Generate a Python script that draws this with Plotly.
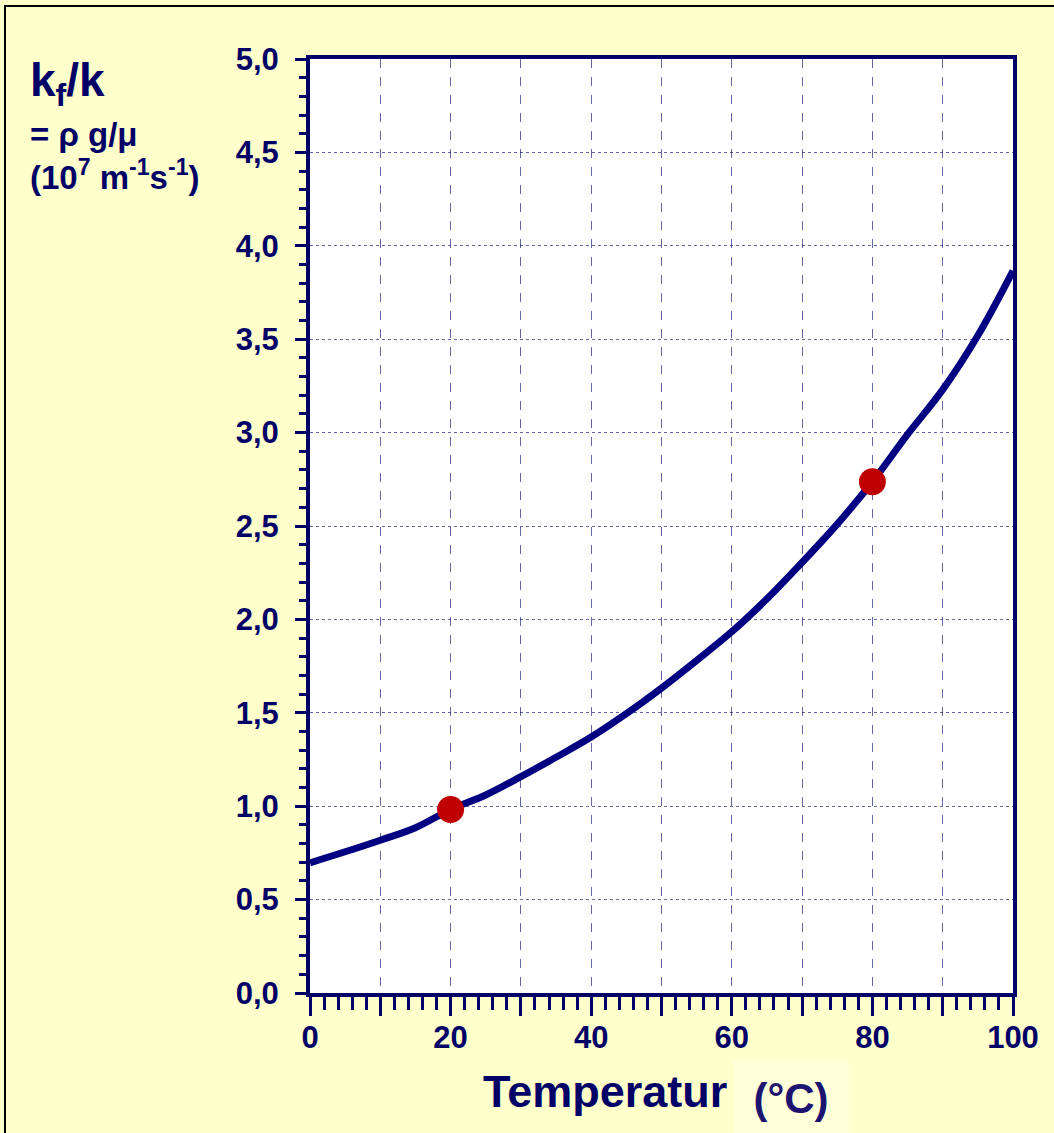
import plotly.graph_objects as go

# Data
temperature = [0, 5, 10, 15, 20, 25, 30, 35, 40, 45, 50, 55, 60, 65, 70, 75, 80, 85, 90, 95, 100]
kf_over_k = [0.697, 0.756, 0.818, 0.885, 0.982, 1.06, 1.158, 1.262, 1.37, 1.495, 1.632, 1.78,
             1.934, 2.11, 2.305, 2.51, 2.737, 2.99, 3.23, 3.52, 3.866]
marker_T = [20, 80]
marker_v = [0.982, 2.737]

x_tickvals = [0, 10, 20, 30, 40, 50, 60, 70, 80, 90, 100]
x_ticktext = ["0", "", "20", "", "40", "", "60", "", "80", "", "100"]
y_tickvals = [0.0, 0.5, 1.0, 1.5, 2.0, 2.5, 3.0, 3.5, 4.0, 4.5, 5.0]
y_ticktext = ["0,0", "0,5", "1,0", "1,5", "2,0", "2,5", "3,0", "3,5", "4,0", "4,5", "5,0"]

NAVY = "#000066"
LINE = "#000080"
FONT = "Liberation Sans, Arial, sans-serif"

fig = go.Figure()
fig.add_trace(go.Scatter(x=temperature, y=kf_over_k, mode="lines",
                         line=dict(color=LINE, width=7, shape="spline", smoothing=1.0),
                         hoverinfo="skip", showlegend=False))
fig.add_trace(go.Scatter(x=marker_T, y=marker_v, mode="markers",
                         marker=dict(color="#C00000", size=27, line=dict(width=0)),
                         showlegend=False, cliponaxis=False))

W, H = 1054, 1133
L, R, T, B = 310, 41, 59, 140
pw, ph = W - L - R, H - T - B

def px(xp):
    return (xp - L) / pw

def py(yp):
    return (H - B - yp) / ph

fig.update_layout(
    width=W, height=H,
    margin=dict(l=L, r=R, t=T, b=B, pad=0),
    paper_bgcolor="#FFFFCC",
    plot_bgcolor="white",
    font=dict(family=FONT, color=NAVY),
    showlegend=False,
)

fig.update_xaxes(
    range=[0, 100], tickmode="array", tickvals=x_tickvals, ticktext=x_ticktext,
    showline=True, linecolor=NAVY, linewidth=4, mirror=True,
    ticks="outside", ticklen=19, tickwidth=3, tickcolor=NAVY,
    tickfont=dict(size=31, family=FONT, color=NAVY, weight="bold"),
    ticklabelstandoff=-5,
    showgrid=True, gridcolor="rgba(0,0,102,0.6)", gridwidth=1, griddash="dash",
    minor=dict(dtick=2, ticks="outside", ticklen=13, tickwidth=3, tickcolor=NAVY, showgrid=False),
    zeroline=False, fixedrange=True,
)
fig.update_yaxes(
    range=[0, 5], tickmode="array", tickvals=y_tickvals, ticktext=y_ticktext,
    showline=True, linecolor=NAVY, linewidth=4, mirror=True,
    ticks="outside", ticklen=11, tickwidth=3, tickcolor=NAVY,
    tickfont=dict(size=31, family=FONT, color=NAVY, weight="bold"),
    ticklabelstandoff=10,
    showgrid=True, gridcolor="rgba(0,0,102,0.6)", gridwidth=1, griddash="dot",
    minor=dict(dtick=0.1, ticks="outside", ticklen=7, tickwidth=3, tickcolor=NAVY, showgrid=False),
    zeroline=False, fixedrange=True,
)

# outer frame
fig.add_shape(type="rect", xref="paper", yref="paper",
              x0=px(5), x1=px(1070), y0=py(1150), y1=py(6),
              line=dict(color="black", width=2), fillcolor="rgba(0,0,0,0)", layer="below")

# y-axis title block
fig.add_annotation(xref="paper", yref="paper", x=px(28), y=py(52), xanchor="left", yanchor="top",
                   text="<b>k<sub>f</sub>/k</b>", showarrow=False,
                   font=dict(size=46, family=FONT, color=NAVY))
fig.add_annotation(xref="paper", yref="paper", x=px(28), y=py(114), xanchor="left", yanchor="top",
                   text="<b>= ρ g/μ</b><br><b>(10<sup>7</sup> m<sup>-1</sup>s<sup>-1</sup>)</b>",
                   showarrow=False, align="left",
                   font=dict(size=33, family=FONT, color=NAVY))

# x-axis title
fig.add_annotation(xref="paper", yref="paper", x=px(733), y=py(1060), xanchor="left", yanchor="top",
                   text="<b>(°C)</b>", showarrow=False, bgcolor="#FFFFD9",
                   width=112, height=73, align="center", valign="middle",
                   font=dict(size=42, family=FONT, color="#1C1470"))
fig.add_annotation(xref="paper", yref="paper", x=px(729), y=py(1064), xanchor="right", yanchor="top",
                   text="<b>Temperatur</b>", showarrow=False,
                   font=dict(size=45, family=FONT, color=NAVY))

fig.write_html("out.html", config={"displayModeBar": False},
               post_script="document.body.style.margin='0';document.body.style.background='#FFFFCC';")
